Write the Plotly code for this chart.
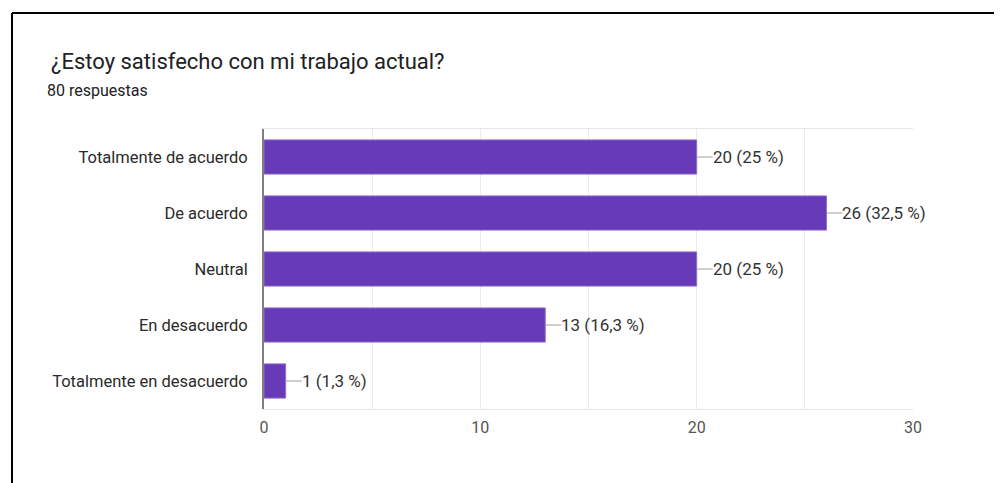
import plotly.graph_objects as go

categories = ["Totalmente de acuerdo", "De acuerdo", "Neutral", "En desacuerdo", "Totalmente en desacuerdo"]
counts = [20, 26, 20, 13, 1]
percent_labels = ["25 %", "32,5 %", "25 %", "16,3 %", "1,3 %"]
tick_values = [0, 5, 10, 15, 20, 25, 30]
tick_labels = ["0", "", "10", "", "20", "", "30"]
title_text = "¿Estoy satisfecho con mi trabajo actual?"
subtitle_text = "80 respuestas"

# page body has an 8px default margin; compensate so screen coords match
OFF = 8
W, H = 1002 - OFF, 483 - OFF
L, T = 264 - OFF, 129 - OFF
PW, PH = 649, 280
R, B = W - L - PW, H - T - PH

def px_x(x):
    return (x - OFF - L) / PW

def px_y(y):
    return (T + PH - (y - OFF)) / PH

FONT = "Roboto, Arial, sans-serif"

fig = go.Figure(go.Bar(
    x=counts, y=categories, orientation="h",
    marker=dict(color="#673AB7", line=dict(color="#8E6BCB", width=1)),
    hoverinfo="skip",
))

annotations = []
for c, v, p in zip(categories, counts, percent_labels):
    annotations.append(dict(
        x=v, y=c, xref="x", yref="y",
        text=f"{v} ({p})", showarrow=True, arrowhead=0, arrowwidth=1,
        arrowcolor="#9e9e9e", ax=16, ay=0, xanchor="left", yanchor="middle",
        standoff=0, startstandoff=0, borderpad=0, borderwidth=0,
        font=dict(family=FONT, size=17, color="#333333"),
    ))

annotations.append(dict(
    x=px_x(49), y=px_y(62), xref="paper", yref="paper", xanchor="left", yanchor="middle",
    text=title_text, showarrow=False, font=dict(family=FONT, size=22, color="#202124"),
))
annotations.append(dict(
    x=px_x(45), y=px_y(90), xref="paper", yref="paper", xanchor="left", yanchor="middle",
    text=subtitle_text, showarrow=False, font=dict(family=FONT, size=16, color="#202124"),
))

shapes = [
    dict(type="line", xref="paper", yref="paper", x0=px_x(12), x1=px_x(1010), y0=px_y(13), y1=px_y(13),
         line=dict(color="black", width=2)),
    dict(type="line", xref="paper", yref="paper", x0=px_x(12), x1=px_x(12), y0=px_y(13), y1=px_y(490),
         line=dict(color="black", width=2)),
]

fig.update_layout(
    width=W, height=H,
    margin=dict(l=L, r=R, t=T, b=B),
    plot_bgcolor="white", paper_bgcolor="white",
    bargap=0.39,
    showlegend=False,
    annotations=annotations,
    shapes=shapes,
    xaxis=dict(
        range=[0, 30], tickvals=tick_values, ticktext=tick_labels,
        showgrid=True, gridcolor="#ececec", gridwidth=1,
        showline=True, linecolor="#e6e6e6", linewidth=1, mirror=True,
        zeroline=False, ticks="outside", ticklen=4, tickcolor="rgba(0,0,0,0)",
        tickfont=dict(family=FONT, size=16, color="#555555"),
    ),
    yaxis=dict(
        autorange="reversed", showgrid=False, zeroline=False,
        showline=True, linecolor="#808080", linewidth=2,
        ticks="outside", ticklen=11, tickcolor="rgba(0,0,0,0)",
        tickfont=dict(family=FONT, size=16.5, color="#2a2a2a"),
    ),
)

fig.write_html("out.html")
